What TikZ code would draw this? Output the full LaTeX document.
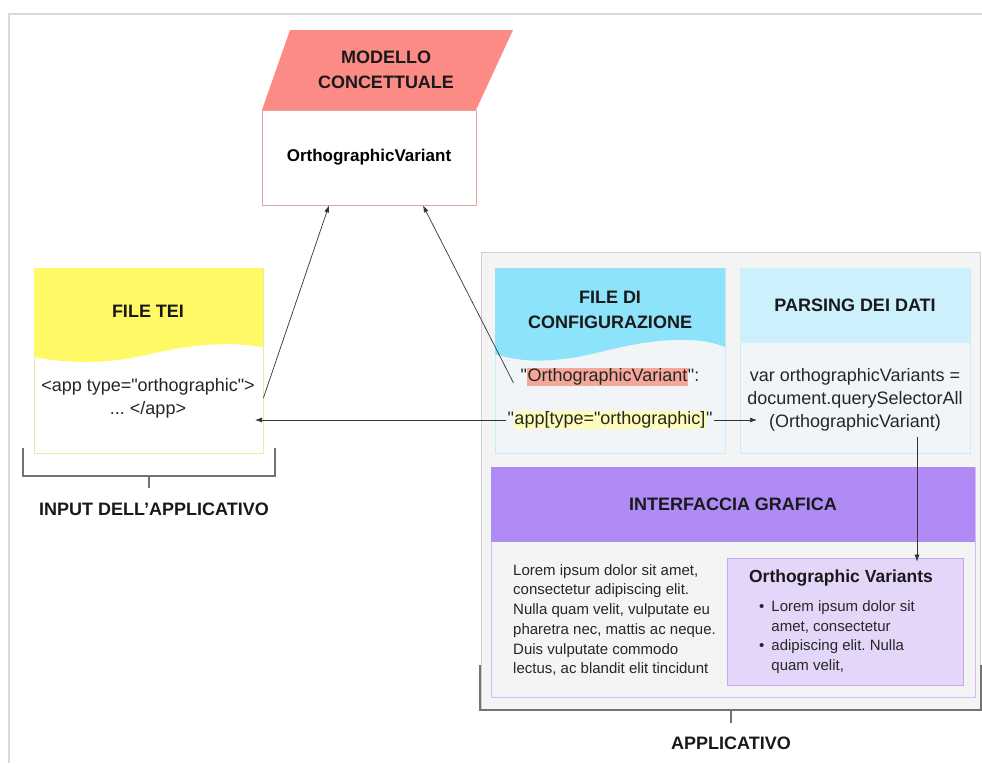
\documentclass[tikz,border=0pt]{standalone}
\usepackage{fontspec}
\setmainfont{Liberation Sans}[Ligatures=TeXOff]
\usetikzlibrary{arrows.meta}
\frenchspacing

\definecolor{modello}{HTML}{FC8A85}
\definecolor{modbordo}{HTML}{E3A4A4}
\definecolor{teiyellow}{HTML}{FFF966}
\definecolor{teibordo}{HTML}{EBEA9E}
\definecolor{cfgblue}{HTML}{8DE3FA}
\definecolor{cfgbordo}{HTML}{C6EDF8}
\definecolor{cfgfondo}{HTML}{F2F5F7}
\definecolor{parsblue}{HTML}{CCF0FC}
\definecolor{guipurple}{HTML}{B08AF5}
\definecolor{guibordo}{HTML}{D2BBF9}
\definecolor{guilight}{HTML}{E3D6F9}
\definecolor{ovbordo}{HTML}{C6A8F6}
\definecolor{appgray}{HTML}{F4F4F4}
\definecolor{appbordo}{HTML}{D0D0D0}
\definecolor{hlred}{HTML}{F5A899}
\definecolor{hlyellow}{HTML}{FDFCB8}
\setlength{\fboxsep}{0.5pt}

\tikzset{
  titolo/.style={font=\bfseries\fontsize{18}{25}\selectfont, align=center, text=black!90},
  testo/.style={font=\fontsize{18}{23}\selectfont, align=center, text=black!85, inner sep=1pt},
  lorem/.style={font=\fontsize{15}{19.7}\selectfont, align=left, text=black!85, inner sep=0pt},
  freccia/.style={-{Latex[length=7pt,width=5pt]}, black!80, line width=0.7pt},
  graffa/.style={black!55, line width=1.3pt},
  cornice/.style={black!15, line width=2pt},
}

\begin{document}
\begin{tikzpicture}[x=1pt,y=-1pt]
\useasboundingbox (0,0) rectangle (982,763);
% cornice esterna
\draw[cornice] (9,763) -- (9,14) -- (982,14);

% modello concettuale
\fill[modello] (290,30) -- (513,30) -- (476,110) -- (262,110) -- cycle;
\node[titolo] (modtit) at (386,70) {MODELLO\\CONCETTUALE};
\node[draw=modbordo, line width=0.8pt, fill=white, minimum width=214pt, minimum height=95pt,
  font=\bfseries\fontsize{17}{20}\selectfont] (modbox) at (369,157.5) {OrthographicVariant};

% applicativo
\node[draw=appbordo, line width=0.8pt, fill=appgray, minimum width=499pt, minimum height=458pt] (app) at (730.5,481) {};

% file tei
\node[draw=teibordo, line width=0.8pt, fill=white, minimum width=229pt, minimum height=185pt] (tei) at (148.5,360.5) {};
\fill[teiyellow] (34,268) -- (263,268) -- (263,347)
  .. controls (225,341) and (190,345) .. (150,354)
  .. controls (110,364) and (70,364) .. (34,357) -- cycle;
\node[titolo] (teitit) at (148,311) {FILE TEI};
\node[testo] (teicode) at (148,398) {<app type="orthographic">\\... </app>};

% file di configurazione
\node[draw=cfgbordo, line width=0.8pt, fill=cfgfondo, minimum width=230pt, minimum height=185pt] (cfg) at (610,360.5) {};
\fill[cfgblue] (495,268) -- (725,268) -- (725,347)
  .. controls (690,333) and (640,342) .. (600,352)
  .. controls (560,362) and (525,364) .. (495,354) -- cycle;
\node[titolo] (cfgtit) at (610,310) {FILE DI\\CONFIGURAZIONE};
\node[testo] (cfgvar) at (610,377) {"\colorbox{hlred}{OrthographicVariant}":};
\node[testo] (cfgapp) at (610,420) {"\colorbox{hlyellow}{app[type="orthographic]}"};

% parsing dei dati
\node[draw=cfgbordo, line width=0.8pt, fill=cfgfondo, minimum width=230pt, minimum height=185pt] (pars) at (855,360.5) {};
\fill[parsblue] (740,268) rectangle (970,343);
\node[titolo] (parstit) at (855,305) {PARSING DEI DATI};
\node[testo] (parstxt) at (855,400) {var orthographicVariants =\\document.querySelectorAll\\(OrthographicVariant)};

% interfaccia grafica
\node[draw=guibordo, line width=0.8pt, fill=appgray, minimum width=484pt, minimum height=230pt] (gui) at (733,582) {};
\fill[guipurple] (491,467) rectangle (975,542);
\node[titolo] (guitit) at (733,504) {INTERFACCIA GRAFICA};
\node[lorem, anchor=west] (guitxt) at (513,620) {Lorem ipsum dolor sit amet,\\consectetur adipiscing elit.\\Nulla quam velit, vulputate eu\\pharetra nec, mattis ac neque.\\Duis vulputate commodo\\lectus, ac blandit elit tincidunt};
\node[draw=ovbordo, line width=0.8pt, fill=guilight, minimum width=236pt, minimum height=127pt] (ovbox) at (845,621.5) {};
\node[font=\bfseries\fontsize{17.5}{20}\selectfont, text=black!90] (ovtit) at (841,578) {Orthographic Variants};
\node[lorem, anchor=west] (ovlist) at (759,637) {%
  \begin{tabular}{@{}l@{\hspace{7pt}}l@{}}
  \textbullet & Lorem ipsum dolor sit\\
   & amet, consectetur\\
  \textbullet & adipiscing elit. Nulla\\
   & quam velit,
  \end{tabular}};

% parentesi e etichette
\draw[graffa] (23,448) -- (23,476) -- (275,476) -- (275,448);
\draw[graffa] (149,476) -- (149,488);
\node[titolo] (inputlab) at (154,509) {INPUT DELL’APPLICATIVO};
\draw[graffa] (480,665) -- (480,710) -- (981,710) -- (981,665);
\draw[graffa] (731,710) -- (731,723);
\node[titolo] (applab) at (731,743) {APPLICATIVO};

% frecce
\coordinate (teiin) at (255,420);
\coordinate (parsin) at (757,420);
\coordinate (parsout) at (917,437);
\draw[freccia] (tei.east |- teicode) -- ([xshift=-40pt]modbox.south);
\draw[freccia] ([shift={(-6,6)}]cfgvar.west) -- ([xshift=54pt]modbox.south);
\draw[freccia] (cfgapp) -- (teiin);
\draw[freccia] (cfgapp) -- (parsin);
\draw[freccia] (parsout) -- ([yshift=-4pt]ovbox.north -| parsout);
\end{tikzpicture}
\end{document}
